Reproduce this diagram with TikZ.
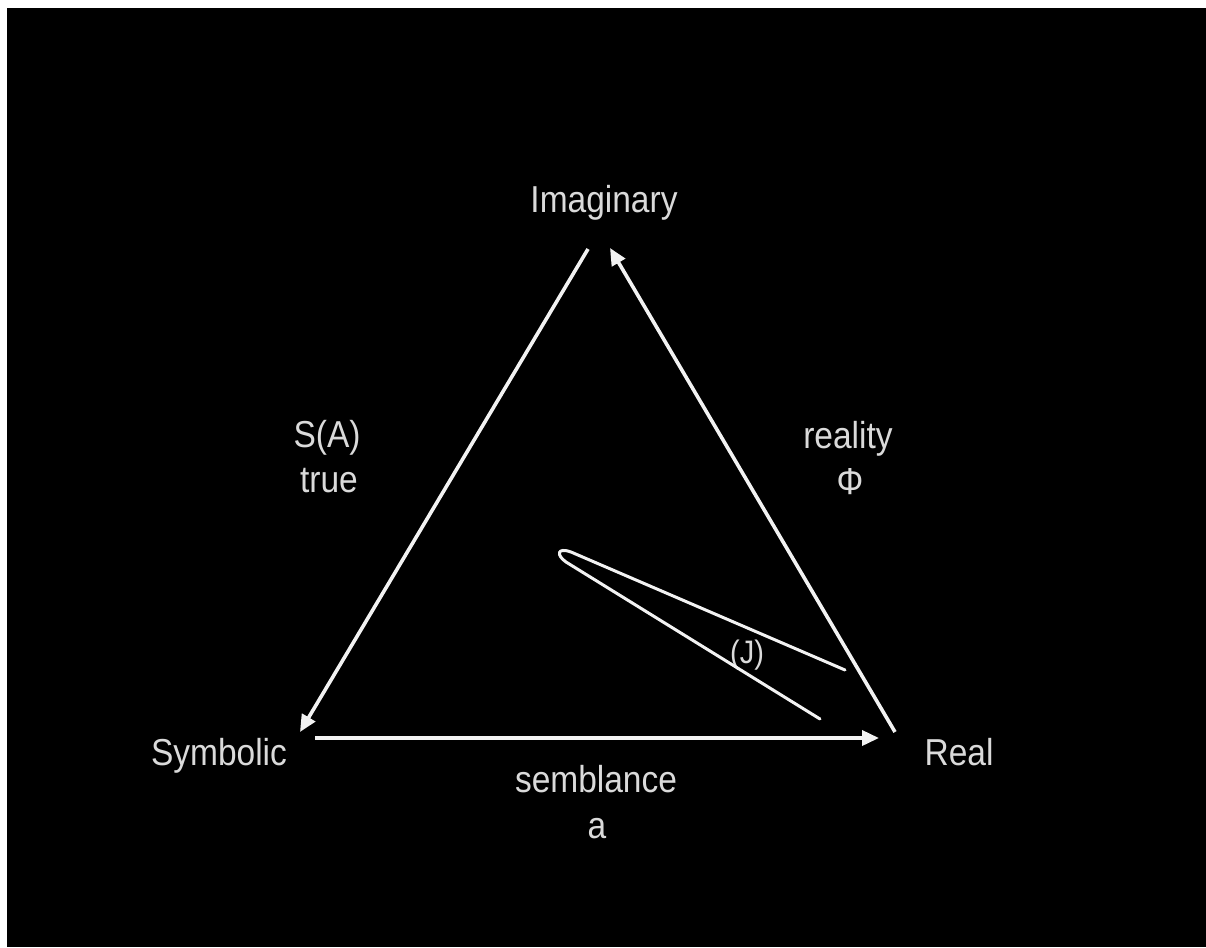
\documentclass[tikz,border=0pt]{standalone}
\usepackage{fontspec}
\setmainfont{Liberation Sans}
\usetikzlibrary{arrows.meta}
\definecolor{txt}{HTML}{DADADA}
\definecolor{ln}{HTML}{F2F2F2}
\newcommand{\lbl}[1]{\scalebox{1}[1.12]{#1}}
\begin{document}
\begin{tikzpicture}[x=1pt,y=-1pt,
  lab/.style={text=txt,font=\fontsize{33.5}{40}\selectfont,inner sep=0pt,anchor=base},
  smalllab/.style={text=txt,font=\fontsize{29}{34}\selectfont,inner sep=0pt,anchor=base},
  edge/.style={draw=ln,line width=3.6pt,-{Triangle[length=17pt,width=15pt]}},
  loopline/.style={draw=ln,line width=3pt,line cap=round}]
\useasboundingbox (0,0) rectangle (1206,947);
\fill[white] (0,0) rectangle (1206,947);
\fill[black] (7,8) rectangle (1206,947);
% labels
\node[lab] (imag) at (604,212) {\lbl{Imaginary}};
\node[lab] (symb) at (219,765) {\lbl{Symbolic}};
\node[lab] (real) at (959,765) {\lbl{Real}};
\node[lab] (semb) at (596,792) {\lbl{semblance}};
\node[lab] (a) at (597,838) {\lbl{a}};
\node[lab] (sa) at (327,447) {\lbl{S(A)}};
\node[lab] (true) at (329,492) {\lbl{true}};
\node[lab] (reality) at (848,448) {\lbl{reality}};
\node[lab] (phi) at (850,494) {\lbl{Φ}};
\node[smalllab] (j) at (747,663) {\lbl{(J)}};
% endpoints
\coordinate (iL) at (588,249);
\coordinate (sT) at (300,732);
\coordinate (rT) at (895,732);
\coordinate (iR) at (610,248);
\coordinate (sR) at (315,738);
\coordinate (rL) at (879,738);
\draw[edge] (iL) -- (sT);
\draw[edge] (rT) -- (iR);
\draw[edge] (sR) -- (rL);
% loop
\coordinate (j1) at (845,670);
\coordinate (j2) at (820,719);
\draw[loopline] (j1) -- (571,552) .. controls (557,547) and (556,555) .. (566,562) -- (j2);
\end{tikzpicture}
\end{document}
